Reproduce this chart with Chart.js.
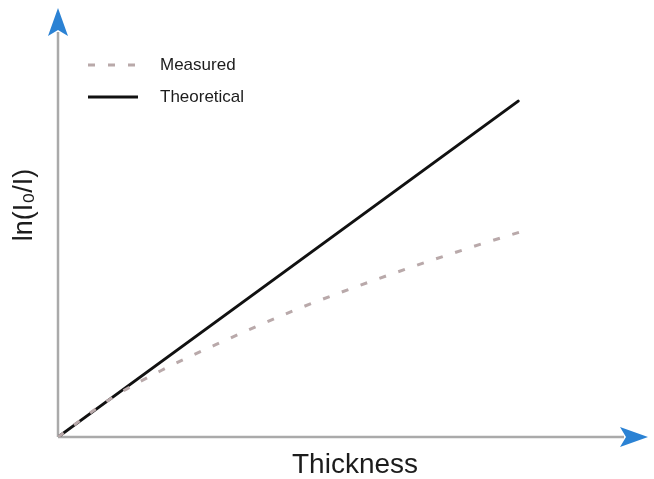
<!DOCTYPE html>
<html>
<head>
<meta charset="utf-8">
<script src="https://cdn.jsdelivr.net/npm/chart.js@4.4.0/dist/chart.umd.min.js"></script>
<style>
  html, body { margin: 0; padding: 0; background: #fff; }
  #wrap { width: 654px; height: 479px; }
</style>
</head>
<body>
<div id="wrap"><canvas id="chart"></canvas></div>
<script>
const seriesNames = ["Measured", "Theoretical"];
const measuredX = [0, 0.9, 1.75, 2.75, 4.0, 5.35, 6.95, 8.0];
const measuredY = [0, 0.9, 1.55, 2.2, 2.95, 3.65, 4.4, 4.85];
const theoreticalX = [0, 7.8];
const theoreticalY = [0, 7.83];
const xTitle = "Thickness";
const yTitle = "ln(I\u2080/I)";

const toPoints = (xs, ys) => xs.map((x, i) => ({ x: x, y: ys[i] }));

const arrowBlue = "#2b82d4";
const axisGrey = "#aaaaaa";

// axes with arrow heads, titles and the legend in the top-left corner
const decor = {
  id: "decor",
  beforeDatasetsDraw(chart) {
    const ctx = chart.ctx;
    const a = chart.chartArea;
    ctx.save();
    ctx.strokeStyle = axisGrey;
    ctx.lineWidth = 2.5;
    ctx.beginPath();
    ctx.moveTo(a.left, a.bottom);
    ctx.lineTo(a.left, a.top + 24);
    ctx.moveTo(a.left, a.bottom);
    ctx.lineTo(a.right - 24, a.bottom);
    ctx.stroke();

    ctx.fillStyle = arrowBlue;
    ctx.beginPath();
    ctx.moveTo(a.left, a.top);
    ctx.lineTo(a.left + 10, a.top + 28);
    ctx.lineTo(a.left, a.top + 22);
    ctx.lineTo(a.left - 10, a.top + 28);
    ctx.closePath();
    ctx.fill();
    ctx.beginPath();
    ctx.moveTo(a.right, a.bottom);
    ctx.lineTo(a.right - 28, a.bottom - 10);
    ctx.lineTo(a.right - 22, a.bottom);
    ctx.lineTo(a.right - 28, a.bottom + 10);
    ctx.closePath();
    ctx.fill();

    ctx.fillStyle = "#1c1c1c";
    ctx.font = "28px 'Liberation Sans', Arial, sans-serif";
    ctx.textAlign = "center";
    ctx.textBaseline = "middle";
    ctx.fillText(xTitle, 355, 465);
    ctx.font = "27px 'Liberation Sans', Arial, sans-serif";
    ctx.translate(25, 205);
    ctx.rotate(-Math.PI / 2);
    ctx.fillText(yTitle, 0, 0);
    ctx.restore();
  },
  afterDraw(chart) {
    const ctx = chart.ctx;
    ctx.save();
    ctx.font = "17px 'Liberation Sans', Arial, sans-serif";
    ctx.textBaseline = "middle";
    ctx.textAlign = "left";
    chart.data.datasets.forEach((ds, i) => {
      const y = 65 + i * 32;
      ctx.strokeStyle = ds.borderColor;
      ctx.lineWidth = 3;
      ctx.setLineDash(ds.borderDash || []);
      ctx.lineCap = "butt";
      ctx.beginPath();
      ctx.moveTo(88, y);
      ctx.lineTo(138, y);
      ctx.stroke();
      ctx.setLineDash([]);
      ctx.fillStyle = "#1c1c1c";
      ctx.fillText(ds.label, 160, y);
    });
    ctx.restore();
  }
};

new Chart(document.getElementById("chart"), {
  type: "line",
  data: {
    datasets: [
      {
        label: seriesNames[0],
        data: toPoints(measuredX, measuredY),
        borderColor: "#b9a9aa",
        borderWidth: 3,
        borderDash: [7, 13],
        cubicInterpolationMode: "monotone",
        pointRadius: 0,
        fill: false
      },
      {
        label: seriesNames[1],
        data: toPoints(theoreticalX, theoreticalY),
        borderColor: "#111111",
        borderWidth: 3,
        borderCapStyle: "round",
        pointRadius: 0,
        fill: false
      }
    ]
  },
  options: {
    responsive: true,
    maintainAspectRatio: false,
    animation: false,
    layout: { padding: { left: 58, right: 6, top: 8, bottom: 42 } },
    plugins: { legend: { display: false }, tooltip: { enabled: false } },
    scales: {
      x: { type: "linear", min: 0, max: 10, display: false },
      y: { type: "linear", min: 0, max: 10, display: false }
    }
  },
  plugins: [decor]
});
</script>
</body>
</html>
